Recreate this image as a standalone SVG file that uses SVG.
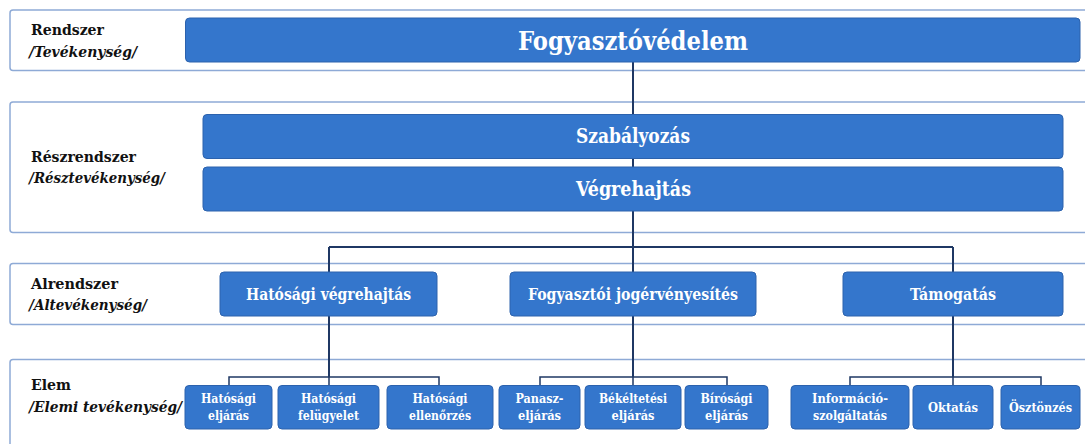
<svg xmlns="http://www.w3.org/2000/svg" width="1085" height="444" viewBox="0 0 1085 444">
<style>
.panel{fill:#ffffff;stroke:#8eaad6;stroke-width:1.5}
.box{fill:#3476cc;stroke:#2c62ad;stroke-width:1}
text{font-family:'DejaVu Serif Condensed','DejaVu Serif',serif;font-weight:700}
.t{fill:#ffffff;text-anchor:middle}
.lbl{fill:#111111;font-size:15.5px}
.it{font-style:italic}
.c{fill:none;stroke:#1f3864;stroke-width:2}
.cs{fill:none;stroke:#1f3864;stroke-width:1.5}
.l1{font-size:26.5px}
.l2{font-size:21px}
.l3{font-size:17.5px}
.l4{font-size:13.8px}
</style>
<rect width="1085" height="444" fill="#ffffff"/>
<g id="panels">
<rect class="panel" x="10" y="10" width="1090" height="60.5" rx="3"/>
<rect class="panel" x="10" y="102" width="1090" height="130.5" rx="3"/>
<rect class="panel" x="10" y="263.5" width="1090" height="61" rx="3"/>
<rect class="panel" x="10" y="359.5" width="1090" height="100" rx="3"/>
</g>
<g id="level-labels">
<text class="lbl" x="31" y="35" textLength="73" lengthAdjust="spacingAndGlyphs">Rendszer</text>
<text class="lbl it" x="29" y="56.5" textLength="108" lengthAdjust="spacingAndGlyphs">/Tevékenység/</text>
<text class="lbl" x="31" y="162.3" textLength="105" lengthAdjust="spacingAndGlyphs">Részrendszer</text>
<text class="lbl it" x="29" y="183.3" textLength="136" lengthAdjust="spacingAndGlyphs">/Résztevékenység/</text>
<text class="lbl" x="31" y="289" textLength="87" lengthAdjust="spacingAndGlyphs">Alrendszer</text>
<text class="lbl it" x="29" y="310" textLength="118" lengthAdjust="spacingAndGlyphs">/Altevékenység/</text>
<text class="lbl" x="31" y="390" textLength="40" lengthAdjust="spacingAndGlyphs">Elem</text>
<text class="lbl it" x="29" y="411.5" textLength="153" lengthAdjust="spacingAndGlyphs">/Elemi tevékenység/</text>
</g>
<g id="connectors">
<path class="c" d="M633 62V272M329 247H953M329 247V272M953 247V272"/>
<path class="c" d="M329 316V377M633 316V377M953 316V377"/>
<path class="cs" d="M229 385.5V377H439V385.5M329 377V385.5"/>
<path class="cs" d="M540 385.5V377H727V385.5M633 377V385.5"/>
<path class="cs" d="M850 385.5V377H1041V385.5M953 377V385.5"/>
</g>
<g id="fogyasztovedelem">
<rect class="box" x="185.5" y="18" width="894.5" height="44" rx="4"/>
<text class="t l1" x="633" y="49.5" textLength="230" lengthAdjust="spacingAndGlyphs">Fogyasztóvédelem</text>
</g>
<g id="szabalyozas">
<rect class="box" x="203" y="114.5" width="860" height="44" rx="4"/>
<text class="t l2" x="633" y="143.3" textLength="114" lengthAdjust="spacingAndGlyphs">Szabályozás</text>
</g>
<g id="vegrehajtas">
<rect class="box" x="203" y="167" width="860" height="44" rx="4"/>
<text class="t l2" x="633.5" y="196" textLength="115" lengthAdjust="spacingAndGlyphs">Végrehajtás</text>
</g>
<g id="hatosagi-vegrehajtas">
<rect class="box" x="220" y="272" width="217" height="44" rx="4"/>
<text class="t l3" x="328.5" y="300" textLength="165" lengthAdjust="spacingAndGlyphs">Hatósági végrehajtás</text>
</g>
<g id="fogyasztoi-jogervenyesites">
<rect class="box" x="510" y="272" width="246" height="44" rx="4"/>
<text class="t l3" x="633" y="300" textLength="210" lengthAdjust="spacingAndGlyphs">Fogyasztói jogérvényesítés</text>
</g>
<g id="tamogatas">
<rect class="box" x="843" y="272" width="220" height="44" rx="4"/>
<text class="t l3" x="953" y="300" textLength="86" lengthAdjust="spacingAndGlyphs">Támogatás</text>
</g>
<g id="hatosagi-eljaras">
<rect class="box" x="185" y="385.5" width="87" height="43.5" rx="4"/>
<text class="t l4" x="228.5" y="403" textLength="55" lengthAdjust="spacingAndGlyphs">Hatósági</text>
<text class="t l4" x="228.5" y="420" textLength="41" lengthAdjust="spacingAndGlyphs">eljárás</text>
</g>
<g id="hatosagi-felugyelet">
<rect class="box" x="278" y="385.5" width="101" height="43.5" rx="4"/>
<text class="t l4" x="328.5" y="403" textLength="55" lengthAdjust="spacingAndGlyphs">Hatósági</text>
<text class="t l4" x="328.5" y="420" textLength="61" lengthAdjust="spacingAndGlyphs">felügyelet</text>
</g>
<g id="hatosagi-ellenorzes">
<rect class="box" x="387" y="385.5" width="106" height="43.5" rx="4"/>
<text class="t l4" x="440" y="403" textLength="55" lengthAdjust="spacingAndGlyphs">Hatósági</text>
<text class="t l4" x="440" y="420" textLength="62" lengthAdjust="spacingAndGlyphs">ellenőrzés</text>
</g>
<g id="panaszeljaras">
<rect class="box" x="499" y="385.5" width="81" height="43.5" rx="4"/>
<text class="t l4" x="539.5" y="403" textLength="48" lengthAdjust="spacingAndGlyphs">Panasz-</text>
<text class="t l4" x="539.5" y="420" textLength="43" lengthAdjust="spacingAndGlyphs">eljárás</text>
</g>
<g id="bekeltetesi-eljaras">
<rect class="box" x="585" y="385.5" width="96" height="43.5" rx="4"/>
<text class="t l4" x="633" y="403" textLength="68" lengthAdjust="spacingAndGlyphs">Békéltetési</text>
<text class="t l4" x="633" y="420" textLength="43" lengthAdjust="spacingAndGlyphs">eljárás</text>
</g>
<g id="birosagi-eljaras">
<rect class="box" x="685" y="385.5" width="83" height="43.5" rx="4"/>
<text class="t l4" x="726.5" y="403" textLength="52" lengthAdjust="spacingAndGlyphs">Bírósági</text>
<text class="t l4" x="726.5" y="420" textLength="43" lengthAdjust="spacingAndGlyphs">eljárás</text>
</g>
<g id="informacio-szolgaltatas">
<rect class="box" x="791" y="385.5" width="118" height="43.5" rx="4"/>
<text class="t l4" x="850" y="403" textLength="76" lengthAdjust="spacingAndGlyphs">Információ-</text>
<text class="t l4" x="850" y="420" textLength="74" lengthAdjust="spacingAndGlyphs">szolgáltatás</text>
</g>
<g id="oktatas">
<rect class="box" x="913" y="385.5" width="80" height="43.5" rx="4"/>
<text class="t l4" x="953" y="412" textLength="50" lengthAdjust="spacingAndGlyphs">Oktatás</text>
</g>
<g id="osztonzes">
<rect class="box" x="1001" y="385.5" width="79" height="43.5" rx="4"/>
<text class="t l4" x="1040.5" y="412" textLength="63" lengthAdjust="spacingAndGlyphs">Ösztönzés</text>
</g>
</svg>
